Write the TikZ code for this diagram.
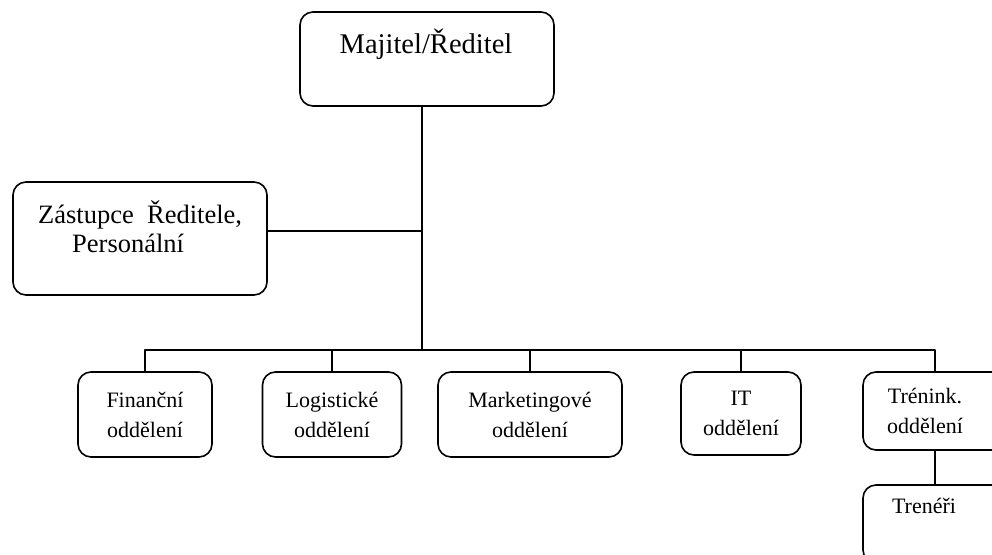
\documentclass[tikz,border=0pt]{standalone}
\usepackage{fontspec}
\setmainfont{Liberation Serif}
\begin{document}
\begin{tikzpicture}[x=1pt,y=-1pt,line join=round,line cap=round,
		box/.style={draw,line width=1.6pt,rounded corners=13pt,inner sep=0pt},
		dept/.style={box,minimum height=85pt,align=center,font=\fontsize{22}{30}\selectfont}]
		\clip (0,0) rectangle (992,554);
		% top level
		\node[box,minimum width=254pt,minimum height=94pt] (owner) at (427,59) {};
		\node[anchor=base,inner sep=0pt,font=\fontsize{28.5}{34}\selectfont] (ownertxt) at (426,53) {Majitel/Ředitel};
		\node[box,minimum width=254pt,minimum height=113pt] (deputy) at (140,238.5) {};
		\node[anchor=base west,inner sep=0pt,align=left,font=\fontsize{26.5}{29}\selectfont] (deputytxt) at (38,252) {Zástupce\ \ Ředitele,\\\hspace*{34pt}Personální};
		\coordinate (hub) at (422,350);
		\draw[line width=1.6pt] (owner.south -| hub) -- (hub);
		\draw[line width=1.6pt] ([yshift=7.5pt]deputy.east) -- ([yshift=7.5pt]deputy.east -| hub);
		% departments
		\node[dept,minimum width=134pt] (fin) at (145,414.5) {Finanční\\oddělení};
		\node[dept,minimum width=139pt] (log) at (332,414.5) {Logistické\\oddělení};
		\node[dept,minimum width=184pt] (mkt) at (530,414.5) {Marketingové\\oddělení};
		\node[dept,minimum width=120pt,minimum height=83pt] (it) at (741,413.5) {IT\\oddělení};
		\node[dept,minimum width=144pt,minimum height=78pt] (trn) at (935,411) {\hspace*{-20pt}Trénink.\\\hspace*{-20pt}oddělení};
		\node[box,minimum width=144pt,minimum height=78pt] (trainers) at (935,524) {};
		\node[anchor=base,inner sep=0pt,font=\fontsize{22}{30}\selectfont] (trainerstxt) at (924,513) {Trenéři};
		\draw[line width=1.6pt] (fin.north) -- (fin.north |- hub) -- (trn.north |- hub) -- (trn.north);
		\foreach \d in {log,mkt,it}
		\draw[line width=1.6pt] (\d.north) -- (\d.north |- hub);
		\draw[line width=1.6pt] (trn.south) -- (trainers.north);
\end{tikzpicture}
\end{document}
